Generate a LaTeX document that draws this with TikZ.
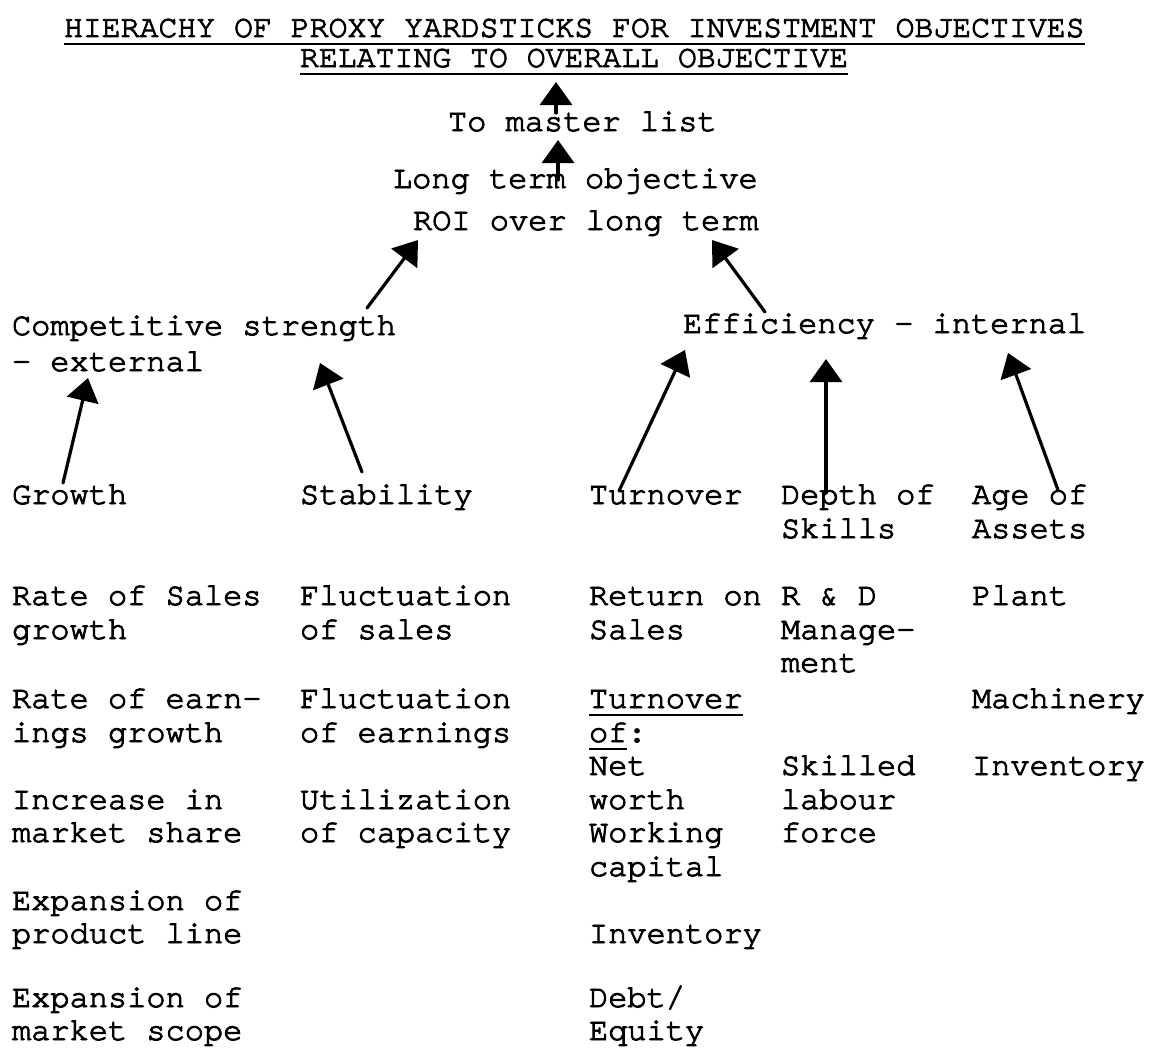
\documentclass[tikz,border=0pt]{standalone}
\usepackage{fontspec}
\setmainfont{TeX Gyre Cursor}[FakeBold=3,Ligatures={NoCommon,NoRare,NoContextual}]
\usetikzlibrary{arrows.meta,calc}
\tikzset{
  tw/.style={anchor=base west,inner sep=0pt,outer sep=0pt,font=\fontsize{32}{33.5}\selectfont},
  ttl/.style={anchor=base west,inner sep=0pt,outer sep=0pt,font=\fontsize{31.5}{33}\selectfont},
  uline/.style={line width=1.8pt},
  arr/.style={line width=3.2pt,line cap=round,-{Triangle[width=32pt,length=23pt]}},
}
\newcommand{\tl}[4]{\node[tw] (#1) at (#2,#3) {#4};}
\begin{document}
\begin{tikzpicture}[x=1pt,y=-1pt]
\useasboundingbox (0,0) rectangle (1156,1049);
\fill[white] (0,0) rectangle (1156,1049);
% title
\node[ttl] (title1) at (64,37) {HIERACHY OF PROXY YARDSTICKS FOR INVESTMENT OBJECTIVES};
\node[ttl] (title2) at (300,67) {RELATING TO OVERALL OBJECTIVE};
\draw[uline] ($(title1.base west)+(0,7)$) -- ($(title1.base east)+(0,7)$);
\draw[uline] ($(title2.base west)+(0,7)$) -- ($(title2.base east)+(0,7)$);
% upper levels
\tl{master}{448}{131}{To master list}
\tl{long1}{393}{188}{Long term objective}
\tl{long2}{413}{230}{ROI over long term}
\tl{comp1}{12}{335}{Competitive strength}
\tl{comp2}{12}{371}{- external}
\tl{eff}{683}{333}{Efficiency - internal}
% second level
\tl{growth}{12}{504}{Growth}
\tl{stab}{300}{504}{Stability}
\tl{turn}{589}{504}{Turnover}
\tl{depth1}{781}{504}{Depth of}
\tl{depth2}{781}{538}{Skills}
\tl{age1}{972}{504}{Age of}
\tl{age2}{972}{538}{Assets}
% yardsticks: growth
\tl{g1a}{12}{605}{Rate of Sales}
\tl{g1b}{12}{639}{growth}
\tl{g2a}{12}{708}{Rate of earn-}
\tl{g2b}{12}{742}{ings growth}
\tl{g3a}{12}{809}{Increase in}
\tl{g3b}{12}{842}{market share}
\tl{g4a}{12}{910}{Expansion of}
\tl{g4b}{12}{943}{product line}
\tl{g5a}{12}{1007}{Expansion of}
\tl{g5b}{12}{1040}{market scope}
% stability
\tl{s1a}{300}{605}{Fluctuation}
\tl{s1b}{300}{639}{of sales}
\tl{s2a}{300}{708}{Fluctuation}
\tl{s2b}{300}{742}{of earnings}
\tl{s3a}{300}{809}{Utilization}
\tl{s3b}{300}{842}{of capacity}
% turnover
\tl{t1a}{589}{605}{Return on}
\tl{t1b}{589}{639}{Sales}
\tl{t2a}{589}{708}{Turnover}
\tl{t2b}{589}{742}{of:}
\tl{t2c}{589}{775}{Net}
\tl{t2d}{589}{809}{worth}
\tl{t2e}{589}{842}{Working}
\tl{t2f}{589}{876}{capital}
\tl{t3}{589}{943}{Inventory}
\tl{t4a}{589}{1007}{Debt/}
\tl{t4b}{589}{1040}{Equity}
\draw[uline] ($(t2a.base west)+(0,7)$) -- ($(t2a.base east)+(0,7)$);
\draw[uline] ($(t2b.base west)+(0,7)$) -- ($(t2b.base west)+(38.4,7)$);
% depth of skills
\tl{d1a}{781}{605}{R \& D}
\tl{d1b}{781}{639}{Manage-}
\tl{d1c}{781}{672}{ment}
\tl{d2a}{781}{775}{Skilled}
\tl{d2b}{781}{809}{labour}
\tl{d2c}{781}{842}{force}
% age of assets
\tl{a1}{972}{605}{Plant}
\tl{a2}{972}{708}{Machinery}
\tl{a3}{972}{775}{Inventory}
% arrows
\coordinate (mastertop) at ($(master.base west)+(108,-49)$);
\draw[arr] ($(master.base west)+(108,-18)$) -- (mastertop);
\draw[arr] ($(long1.base west)+(165,-8)$) -- ($(master.base west)+(110,9)$);
\draw[arr] ($(comp1.base west)+(355,-27)$) -- ($(long2.base west)+(5,10)$);
\draw[arr] ($(eff.base west)+(82,-21)$) -- ($(long2.base west)+(299,10)$);
\draw[arr] ($(growth.base west)+(51,-21)$) -- ($(comp2.base west)+(76,7)$);
\draw[arr] ($(stab.base west)+(62,-32)$) -- ($(comp1.base west)+(308,28)$);
\draw[arr] ($(turn.base west)+(30,-13)$) -- ($(eff.base west)+(2,17)$);
\draw[arr] ($(depth1.base west)+(45,-11)$) -- ($(eff.base west)+(143,26)$);
\draw[arr] ($(age1.base west)+(86,-14)$) -- ($(eff.base west)+(325,20)$);
\end{tikzpicture}
\end{document}
